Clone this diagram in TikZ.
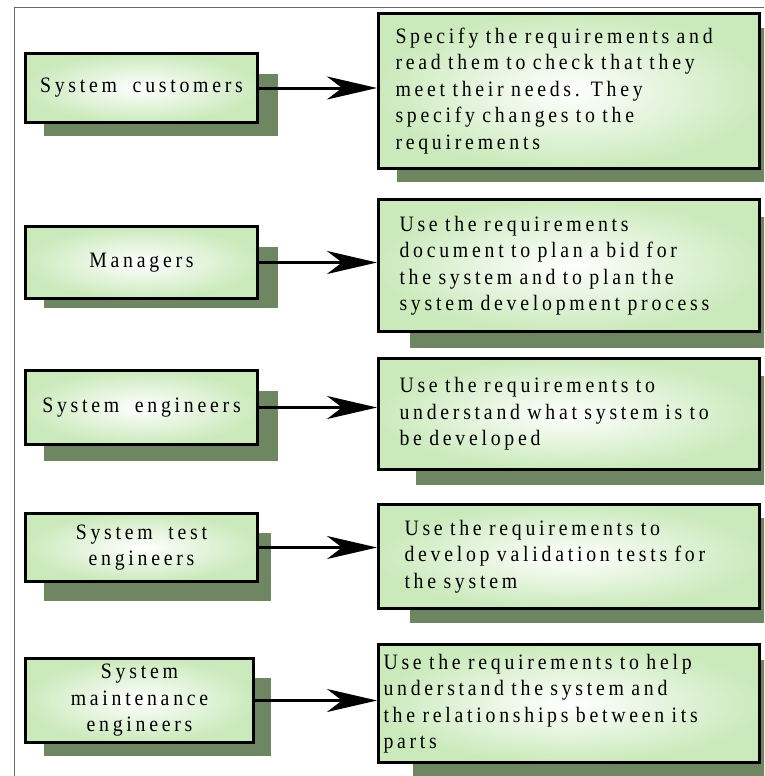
\documentclass[tikz,border=0pt]{standalone}
\usepackage{fontspec}
\setmainfont{Liberation Serif}[LetterSpace=17, WordSpace=1.8, FakeStretch=0.9]
\usetikzlibrary{arrows.meta}

\definecolor{boxgreen}{RGB}{203,234,188}
\definecolor{shadowgreen}{RGB}{110,134,98}
\definecolor{framegray}{RGB}{105,105,105}

\tikzset{
  panel/.style={draw=black, line width=3pt, inner color=white, outer color=boxgreen,
    anchor=north west, inner ysep=0pt, font=\fontsize{22}{26.5}\selectfont},
  actor/.style={panel, align=center, inner xsep=0pt, minimum width=232pt},
  usage/.style={panel, align=left, minimum width=381pt},
  drop/.style={fill=shadowgreen},
  feeds/.style={line width=3pt, -{Stealth[length=50pt, width=23pt, inset=15pt]}},
  frame/.style={draw=framegray, line width=1pt}
}

\begin{document}
\begin{tikzpicture}[x=1pt, y=-1pt]
  \clip (0,0) rectangle (764,776);
  \fill[white] (0,0) rectangle (764,776);

  % outer frame (open at the right and bottom)
  \draw[frame] (14.5,776) -- (14.5,8) -- (764,8);

  % drop shadows of the stakeholder boxes
  \fill[drop] (44,74)  rectangle (278,136);
  \fill[drop] (44,247) rectangle (278,308);
  \fill[drop] (44,391) rectangle (278,461);
  \fill[drop] (44,533) rectangle (271,601);
  \fill[drop] (44,678) rectangle (271,756);

  % drop shadows of the description boxes
  \fill[drop] (397,28)  rectangle (770,182);
  \fill[drop] (410,217) rectangle (770,348);
  \fill[drop] (416,376) rectangle (770,485);
  \fill[drop] (410,518) rectangle (770,623);
  \fill[drop] (413,660) rectangle (770,790);

  % stakeholders
  \node[actor, minimum height=69pt] (l1) at (24,52)  {System customers};
  \node[actor, minimum height=72pt] (l2) at (24,225) {Managers};
  \node[actor, minimum height=74pt] (l3) at (24,369) {System engineers};
  \node[actor, minimum height=68pt] (l4) at (24,512) {System test\\engineers};
  \node[actor, minimum height=84pt, minimum width=228pt] (l5) at (24,657) {System\\maintenance\\engineers};

  % how each stakeholder uses the requirements
  \node[usage, minimum height=155pt, inner xsep=17pt, text width=347pt] (r1) at (377,12)
    {Specify the requirements and\\read them to check that they\\meet their needs. They\\specify changes to the\\requirements};
  \node[usage, minimum height=132pt, inner xsep=21pt, text width=339pt] (r2) at (377,198)
    {Use the requirements\\document to plan a bid for\\the system and to plan the\\system development process};
  \node[usage, minimum height=111pt, inner xsep=21pt, text width=339pt] (r3) at (377,357)
    {Use the requirements to\\understand what system is to\\be developed};
  \node[usage, minimum height=104pt, inner xsep=26pt, text width=329pt] (r4) at (377,503)
    {Use the requirements to\\develop validation tests for\\the system};
  \node[usage, minimum height=118pt, inner xsep=5pt, text width=371pt] (r5) at (377,643)
    {Use the requirements to help\\understand the system and\\the relationships between its\\parts};

  % connectors
  \draw[feeds] (l1.east) -- (l1.east -| r1.west);
  \draw[feeds] (l2.east) -- (l2.east -| r2.west);
  \draw[feeds] (l3.east) -- (l3.east -| r3.west);
  \draw[feeds] (l4.east) -- (l4.east -| r4.west);
  \draw[feeds] (l5.east) -- (l5.east -| r5.west);
\end{tikzpicture}
\end{document}
